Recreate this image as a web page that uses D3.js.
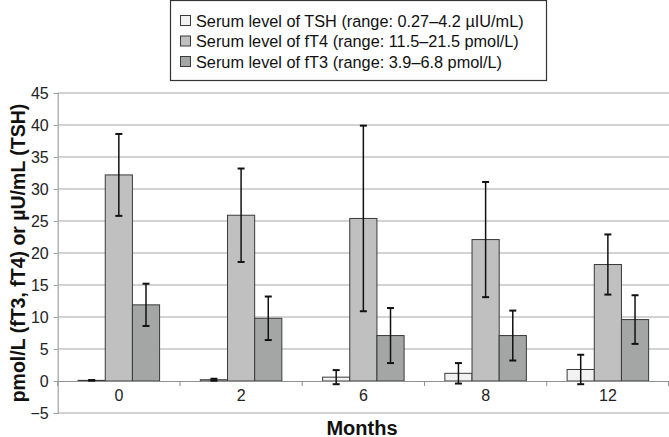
<!DOCTYPE html>
<html><head><meta charset="utf-8">
<script src="https://cdn.jsdelivr.net/npm/d3@7/dist/d3.min.js"></script>
<style>body{margin:0;background:#fff}svg{display:block}text{font-family:"Liberation Sans",Arial,sans-serif}</style>
</head><body><svg id="c" width="669" height="437"></svg>
<script>
const months = ["0", "2", "6", "8", "12"];
const seriesNames = ["Serum level of TSH (range: 0.27\u20134.2 \u00b5IU/mL)", "Serum level of fT4 (range: 11.5\u201321.5 pmol/L)", "Serum level of fT3 (range: 3.9\u20136.8 pmol/L)"];
const tsh = [0.1, 0.2, 0.6, 1.2, 1.8];
const tshErr = [0.05, 0.15, 1.1, 1.6, 2.3];
const ft4 = [32.2, 25.9, 25.4, 22.1, 18.2];
const ft4Err = [6.4, 7.3, 14.5, 9.0, 4.7];
const ft3 = [11.9, 9.8, 7.1, 7.1, 9.6];
const ft3Err = [3.3, 3.4, 4.3, 3.9, 3.8];
const yTicks = [-5, 0, 5, 10, 15, 20, 25, 30, 35, 40, 45];
const colors = ["#f2f2f2", "#c0c0c0", "#a4a6a5"];

const values = [tsh, ft4, ft3];
const errs = [tshErr, ft4Err, ft3Err];

const svg = d3.select("#c");
const pL = 57.7, pR = 669, pT = 93, pB = 413;
const y = d3.scaleLinear().domain([-5, 45]).range([pB, pT]);
const x = d3.scaleBand().domain(months).range([pL, pR]).paddingInner(0).paddingOuter(0);
const inner = d3.scaleBand().domain([0, 1, 2]).range([0, x.bandwidth()]).paddingInner(0).paddingOuter(0.75);

// gridlines
svg.append("g").selectAll("line").data(yTicks.filter(d => d !== 0)).join("line")
  .attr("x1", pL).attr("x2", pR).attr("y1", d => y(d)).attr("y2", d => y(d))
  .attr("stroke", "#c4c4c4").attr("stroke-width", 1.5);

// y axis
const ya = svg.append("g").attr("transform", `translate(${pL},0)`)
  .call(d3.axisLeft(y).tickValues(yTicks).tickSize(4).tickPadding(5).tickFormat(d => d < 0 ? "\u2212" + Math.abs(d) : d));
ya.select(".domain").attr("stroke", "#a0a0a0").attr("stroke-width", 1.2);
ya.selectAll(".tick line").attr("stroke", "#a0a0a0");
ya.selectAll(".tick text").attr("font-size", 16).attr("fill", "#222").style("font-family", '"Liberation Sans",Arial,sans-serif');

// bars
months.forEach((m, i) => {
  const g = svg.append("g").attr("transform", `translate(${x(m)},0)`);
  values.forEach((vals, s) => {
    const v = vals[i];
    g.append("rect").attr("x", inner(s)).attr("width", inner.bandwidth())
      .attr("y", y(Math.max(v, 0))).attr("height", Math.abs(y(v) - y(0)))
      .attr("fill", colors[s]).attr("stroke", "#3a3a3a").attr("stroke-width", 1);
  });
});

// x axis at zero
const xa = svg.append("g").attr("transform", `translate(0,${y(0)})`)
  .call(d3.axisBottom(x).tickSize(0).tickPadding(9));
xa.select(".domain").attr("stroke", "#909090").attr("stroke-width", 1.2);
xa.selectAll(".tick text").attr("font-size", 16).attr("fill", "#222").style("font-family", '"Liberation Sans",Arial,sans-serif');
const bounds = months.map(m => x(m)).concat([pR - 0.5]);
svg.append("g").selectAll("line").data(bounds).join("line")
  .attr("x1", d => d).attr("x2", d => d).attr("y1", y(0)).attr("y2", y(0) + 5)
  .attr("stroke", "#909090").attr("stroke-width", 1);

// error bars
months.forEach((m, i) => {
  values.forEach((vals, s) => {
    const cx = x(m) + inner(s) + inner.bandwidth() / 2;
    const v = vals[i], e = errs[s][i];
    const g = svg.append("g").attr("stroke", "#111").attr("stroke-width", 1.5);
    g.append("line").attr("x1", cx).attr("x2", cx).attr("y1", y(v + e)).attr("y2", y(v - e));
    [v + e, v - e].forEach(t => g.append("line").attr("x1", cx - 3.5).attr("x2", cx + 3.5).attr("y1", y(t)).attr("y2", y(t)).attr("stroke-width", 2));
  });
});

// axis titles
svg.append("text").attr("transform", `translate(25,253) rotate(-90)`).attr("text-anchor", "middle")
  .attr("font-size", 19.5).attr("font-weight", "bold").attr("fill", "#111").text("pmol/L (fT3, fT4) or \u00b5U/mL (TSH)");
svg.append("text").attr("x", 362).attr("y", 434.5).attr("text-anchor", "middle")
  .attr("font-size", 20).attr("font-weight", "bold").attr("fill", "#111").text("Months");

// legend
const lg = svg.append("g");
lg.append("rect").attr("x", 170.5).attr("y", 0.5).attr("width", 376).attr("height", 80)
  .attr("fill", "#fff").attr("stroke", "#333").attr("stroke-width", 1.2);
seriesNames.forEach((n, s) => {
  const cy = 21 + s * 20.5;
  lg.append("rect").attr("x", 180.5).attr("y", cy - 5.5).attr("width", 10).attr("height", 10)
    .attr("fill", colors[s]).attr("stroke", "#3a3a3a");
  lg.append("text").attr("x", 196).attr("y", cy + 5.8).attr("font-size", 16.3).attr("fill", "#111").text(n);
});
</script></body></html>
